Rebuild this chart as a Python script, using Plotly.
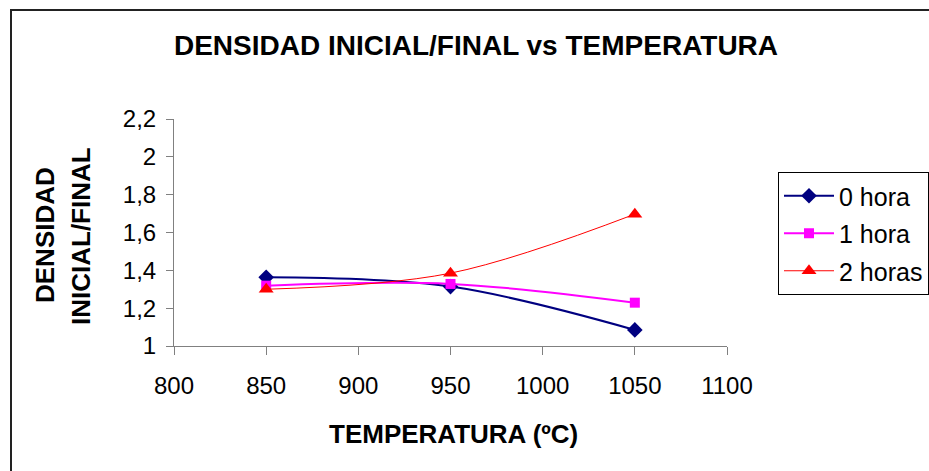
import plotly.graph_objects as go

# Temperatures (ºC) and initial/final density ratio for each holding time
temperatura = [850, 950, 1050]
densidad_0h = [1.363, 1.314, 1.085]
densidad_1h = [1.319, 1.328, 1.229]
densidad_2h = [1.300, 1.385, 1.697]

y_tickvals = [1.0, 1.2, 1.4, 1.6, 1.8, 2.0, 2.2]
y_ticktext = ["1", "1,2", "1,4", "1,6", "1,8", "2", "2,2"]
x_tickvals = [800, 850, 900, 950, 1000, 1050, 1100]

FONT = "Liberation Sans, Arial, sans-serif"

fig = go.Figure()
fig.add_trace(go.Scatter(
    x=temperatura, y=densidad_0h, name="0 hora", legendgroup="a",
    mode="lines+markers", line=dict(color="#000080", width=2, shape="spline"),
    marker=dict(symbol="diamond", size=12, color="#000080"),
))
fig.add_trace(go.Scatter(
    x=temperatura, y=densidad_1h, name="1 hora", legendgroup="b",
    mode="lines+markers", line=dict(color="#FF00FF", width=2, shape="spline"),
    marker=dict(symbol="square", size=10, color="#FF00FF"),
))
fig.add_trace(go.Scatter(
    x=temperatura, y=densidad_2h, name="2 horas", legendgroup="c",
    mode="lines+markers", line=dict(color="#FF0000", width=1, shape="spline"),
    marker=dict(symbol="triangle-up", size=13, color="#FF0000"),
))

W, H = 929, 471
L, R, T, B = 174, 727, 119, 346  # plot area in pixels


def px(x):
    return (x - L) / (R - L)


def py(y):
    return (B - y) / (B - T)


fig.update_layout(
    width=W, height=H,
    margin=dict(l=L, r=W - R, t=T, b=H - B, autoexpand=False),
    paper_bgcolor="white", plot_bgcolor="white",
    font=dict(family=FONT, color="black"),
    title=dict(
        text="<b>DENSIDAD INICIAL/FINAL vs TEMPERATURA</b>",
        x=476 / W, y=1 - 45 / H, xanchor="center", yanchor="middle",
        font=dict(size=28, family=FONT),
    ),
    xaxis=dict(
        range=[800, 1100], tickvals=x_tickvals, showgrid=False, zeroline=False,
        showline=True, linecolor="#808080", linewidth=1,
        ticks="outside", ticklen=8, tickcolor="#808080",
        tickfont=dict(size=24), ticklabelstandoff=10, fixedrange=True,
    ),
    yaxis=dict(
        range=[1, 2.2], tickvals=y_tickvals, ticktext=y_ticktext,
        showgrid=False, zeroline=False,
        showline=True, linecolor="#808080", linewidth=1,
        ticks="outside", ticklen=7, tickcolor="#808080",
        tickfont=dict(size=24), ticklabelstandoff=5, fixedrange=True,
    ),
    legend=dict(
        x=px(778), y=py(172), xanchor="left", yanchor="top",
        bordercolor="black", borderwidth=1, bgcolor="white",
        font=dict(size=25, family=FONT), tracegroupgap=2, itemwidth=50,
    ),
    showlegend=True,
    annotations=[
        dict(text="<b>TEMPERATURA (ºC)</b>", xref="paper", yref="paper",
             x=px(453), y=py(434), xanchor="center", yanchor="middle",
             showarrow=False, font=dict(size=26)),
        dict(text="<b>DENSIDAD</b>", xref="paper", yref="paper",
             x=px(45), y=py(235), xanchor="center", yanchor="middle",
             textangle=-90, showarrow=False, font=dict(size=26)),
        dict(text="<b>INICIAL/FINAL</b>", xref="paper", yref="paper",
             x=px(81), y=py(236), xanchor="center", yanchor="middle",
             textangle=-90, showarrow=False, font=dict(size=26)),
    ],
    shapes=[
        dict(type="rect", xref="paper", yref="paper",
             x0=px(11), x1=px(940), y0=py(490), y1=py(10),
             line=dict(color="#222222", width=2), fillcolor="rgba(0,0,0,0)",
             layer="below"),
    ],
)

fig.write_html("out.html")
